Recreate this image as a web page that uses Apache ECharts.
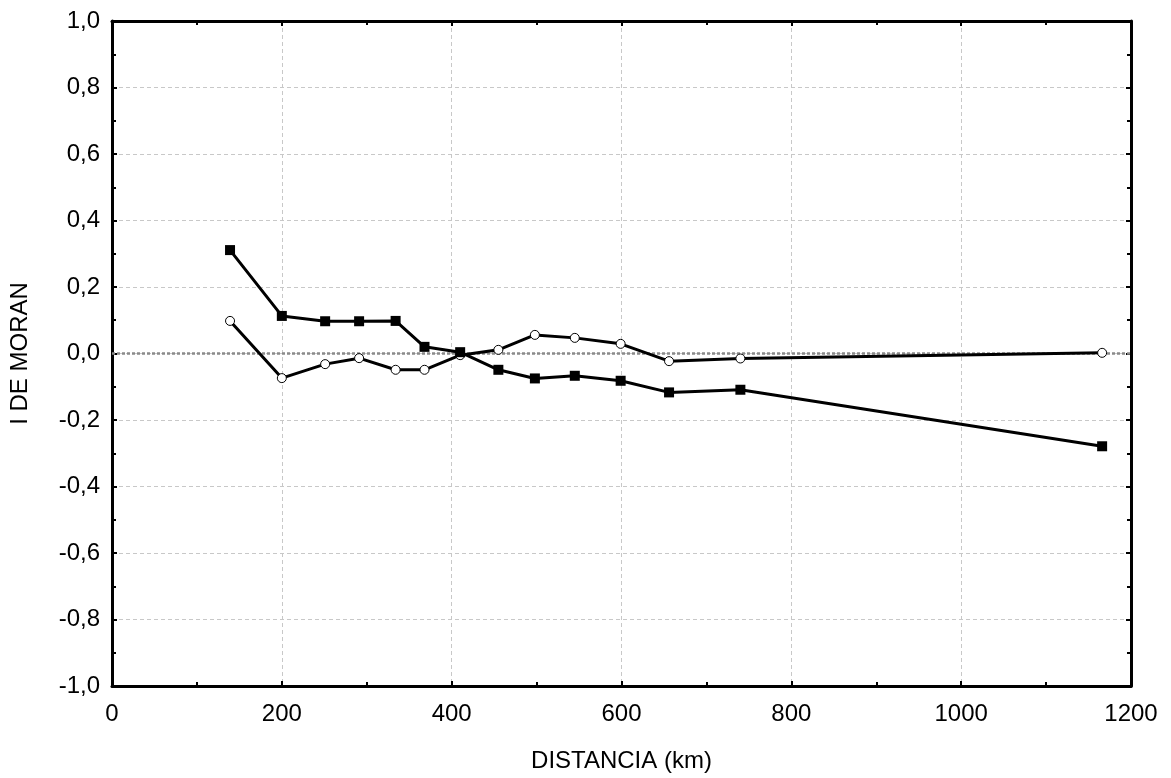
<!DOCTYPE html>
<html>
<head>
<meta charset="utf-8">
<script src="https://cdn.jsdelivr.net/npm/echarts@6/dist/echarts.min.js"></script>
<style>html,body{margin:0;padding:0;background:#fff}#c{width:1171px;height:778px}</style>
</head>
<body>
<div id="c"></div>
<script>
var distances = [139, 200, 251, 291, 334, 368, 410, 455, 498, 545, 599, 656, 740, 1166];
var seriesSquares = [0.311, 0.113, 0.097, 0.097, 0.098, 0.020, 0.004, -0.049, -0.075, -0.067, -0.082, -0.117, -0.109, -0.279];
var seriesCircles = [0.098, -0.074, -0.032, -0.014, -0.049, -0.049, -0.005, 0.011, 0.056, 0.047, 0.029, -0.023, -0.015, 0.002];
var xTitle = 'DISTANCIA (km)';
var yTitle = 'I DE MORAN';

function pairs(xs, ys){ return xs.map(function(x,i){ return [x, ys[i]]; }); }
var font = '"Liberation Sans", Arial, sans-serif';
var fs = 24;
var chart = echarts.init(document.getElementById('c'), null, {renderer:'canvas'});
var axisLineStyle = {color:'#000', width:3};
chart.setOption({
  animation:false,
  backgroundColor:'#fff',
  grid:{left:112, right:40, top:21, bottom:91, containLabel:false},
  xAxis:[{
    type:'value', min:0, max:1200, interval:200, position:'bottom',
    name:xTitle, nameLocation:'middle', nameGap:63,
    nameTextStyle:{color:'#000', fontSize:fs, fontFamily:font},
    axisLine:{show:true, onZero:false, lineStyle:axisLineStyle},
    axisTick:{show:true, inside:true, length:5, lineStyle:{color:'#000', width:2}},
    minorTick:{show:true, splitNumber:2, length:4, lineStyle:{color:'#000', width:2}},
    axisLabel:{color:'#000', fontSize:fs, fontFamily:font, margin:16,
      formatter:function(v){ return String(v); }},
    splitLine:{show:true, lineStyle:{color:'#c8c8c8', type:[4,3], width:1}}
  },{
    type:'value', min:0, max:1200, interval:200, position:'top',
    axisLine:{show:true, onZero:false, lineStyle:axisLineStyle},
    axisTick:{show:true, inside:true, length:5, lineStyle:{color:'#000', width:2}},
    minorTick:{show:true, splitNumber:2, length:4, lineStyle:{color:'#000', width:2}},
    axisLabel:{show:false}, splitLine:{show:false}
  }],
  yAxis:[{
    type:'value', min:-1, max:1, interval:0.2, position:'left',
    name:yTitle, nameLocation:'middle', nameGap:80, nameRotate:90,
    nameTextStyle:{color:'#000', fontSize:fs, fontFamily:font},
    axisLine:{show:true, onZero:false, lineStyle:axisLineStyle},
    axisTick:{show:true, inside:true, length:5, lineStyle:{color:'#000', width:2}},
    minorTick:{show:true, splitNumber:2, length:4, lineStyle:{color:'#000', width:2}},
    axisLabel:{color:'#000', fontSize:fs, fontFamily:font, margin:12,
      formatter:function(v){ return v.toFixed(1).replace('.', ','); }},
    splitLine:{show:true, lineStyle:{color:'#c8c8c8', type:[4,3], width:1}}
  },{
    type:'value', min:-1, max:1, interval:0.2, position:'right',
    axisLine:{show:true, onZero:false, lineStyle:axisLineStyle},
    axisTick:{show:true, inside:true, length:5, lineStyle:{color:'#000', width:2}},
    minorTick:{show:true, splitNumber:2, length:4, lineStyle:{color:'#000', width:2}},
    axisLabel:{show:false}, splitLine:{show:false}
  }],
  series:[{
    type:'line', xAxisIndex:0, yAxisIndex:0, data:pairs(distances, seriesCircles),
    symbol:'circle', symbolSize:9,
    lineStyle:{color:'#000', width:3},
    itemStyle:{color:'#fff', borderColor:'#000', borderWidth:1},
    z:3,
    markLine:{silent:true, symbol:'none', label:{show:false},
      lineStyle:{color:'#8a8a8a', type:[3,2], width:2.5},
      data:[{yAxis:0}], z:1}
  },{
    type:'line', xAxisIndex:0, yAxisIndex:0, data:pairs(distances, seriesSquares),
    symbol:'rect', symbolSize:10,
    lineStyle:{color:'#000', width:3},
    itemStyle:{color:'#000', borderColor:'#000', borderWidth:0},
    z:4
  }]
});
</script>
</body>
</html>
